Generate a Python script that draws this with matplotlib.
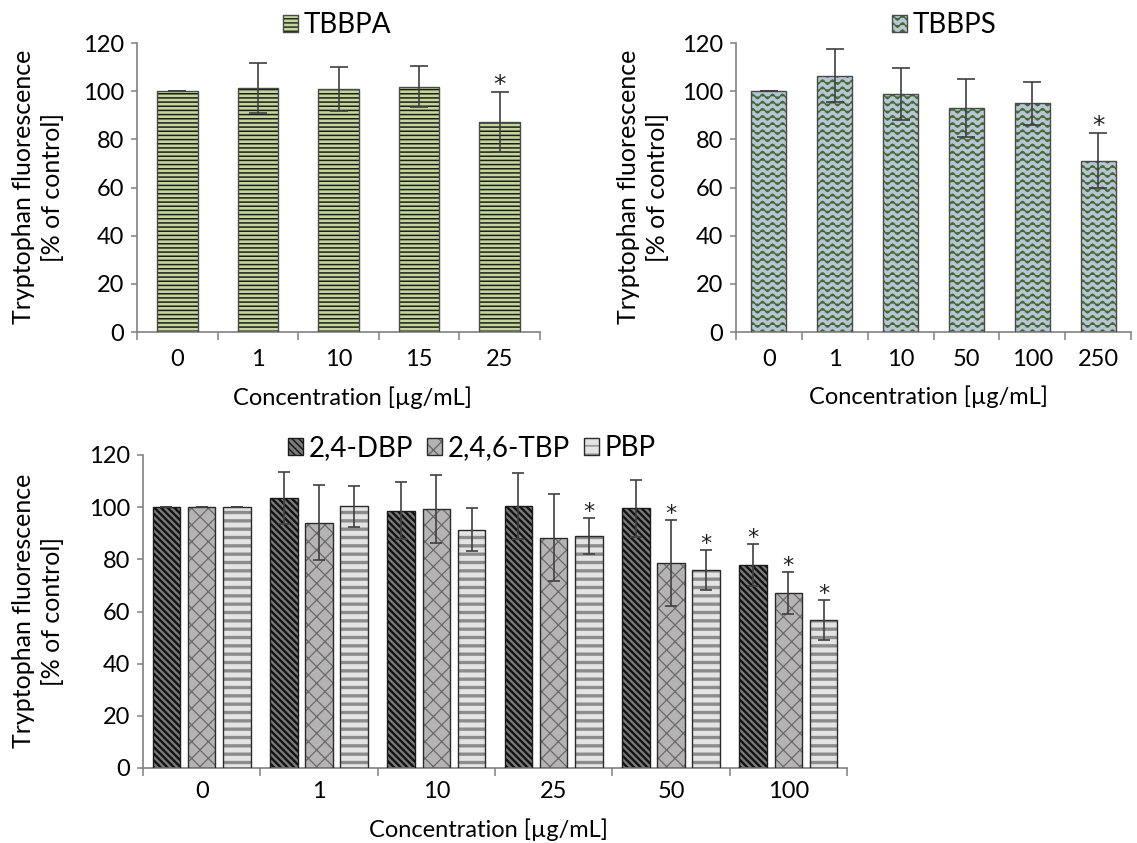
import warnings
import numpy as np
import matplotlib
matplotlib.use('Agg')
import matplotlib.pyplot as plt
import matplotlib.hatch as mhatch
from matplotlib.path import Path
from matplotlib.patches import Patch
from matplotlib.legend_handler import HandlerTuple

warnings.filterwarnings('ignore')

# ---- data ----
tbbpa_conc = ['0', '1', '10', '15', '25']
tbbpa_mean = [100, 101.3, 100.9, 101.9, 87.3]
tbbpa_err = [0, 10.5, 9.0, 8.4, 12.4]
tbbpa_sig = [False, False, False, False, True]

tbbps_conc = ['0', '1', '10', '50', '100', '250']
tbbps_mean = [100, 106.4, 98.8, 93.0, 94.9, 71.1]
tbbps_err = [0, 11.1, 10.7, 12.1, 8.9, 11.5]
tbbps_sig = [False, False, False, False, False, True]

phenol_conc = ['0', '1', '10', '25', '50', '100']
dbp_mean = [100, 103.5, 98.7, 100.5, 99.5, 77.8]
dbp_err = [0, 9.9, 10.9, 12.7, 10.9, 7.9]
dbp_sig = [False, False, False, False, False, True]
tbp_mean = [100, 94.1, 99.4, 88.3, 78.7, 67.1]
tbp_err = [0, 14.3, 13.0, 16.7, 16.4, 8.1]
tbp_sig = [False, False, False, False, True, True]
pbp_mean = [100, 100.4, 91.3, 89.0, 75.9, 56.7]
pbp_err = [0, 7.9, 8.2, 7.0, 7.7, 7.7]
pbp_sig = [False, False, False, True, True, True]

ylabel = 'Tryptophan fluorescence\n[% of control]'
xlabel = 'Concentration [\u00b5g/mL]'


# wavy hatch for TBBPS (Excel "wave" pattern)
class WaveHatch(mhatch.HatchPatternBase):
    def __init__(self, hatch, density):
        self.rows = hatch.count('~') * 14
        self.pts = 10 * 8 + 1
        self.num_vertices = self.rows * self.pts

    def set_vertices_and_codes(self, vertices, codes):
        t = np.linspace(0, 1, self.pts)
        for i in range(self.rows):
            sl = slice(i * self.pts, (i + 1) * self.pts)
            vertices[sl, 0] = t
            vertices[sl, 1] = (i + 0.5) / self.rows + 0.022 * np.sin(2 * np.pi * 10 * t)
            codes[sl] = Path.LINETO
            codes[i * self.pts] = Path.MOVETO


mhatch._hatch_types.append(WaveHatch)

plt.rcParams['font.family'] = ['Lato', 'DejaVu Sans']

styles = {
    'TBBPA': dict(fill='#c4d79b', hc='#1c1c1c', hatch='----', hlw=1.1, edge='#4a4a4a'),
    'TBBPS': dict(fill='#b9c4d6', hc='#3f6b30', hatch='~', hlw=1.0, edge='#4a4a4a'),
    '2,4-DBP': dict(fill='#7a7a7a', hc='#111111', hatch='\\' * 5, hlw=1.7, edge='#1a1a1a'),
    '2,4,6-TBP': dict(fill='#b5b3b3', hc='#6a6a6a', hatch='xx', hlw=0.9, edge='#2a2a2a'),
    'PBP': dict(fill='#e4e4e4', hc='#8c8c8c', hatch='--', hlw=2.4, edge='#2a2a2a'),
}

AXIS_C = '#808080'
ERR_C = '#404040'

W, H = 1137, 843
fig = plt.figure(figsize=(W / 100, H / 100), dpi=100)


def px_axes(left, right, top, bottom):
    return fig.add_axes([left / W, 1 - bottom / H, (right - left) / W, (bottom - top) / H])


def hatched_patch(st):
    p = Patch(facecolor=st['fill'], edgecolor=st['hc'], hatch=st['hatch'], linewidth=0)
    if hasattr(p, 'set_hatch_linewidth'):
        p.set_hatch_linewidth(st['hlw'])
    return p


def draw_bars(ax, x, mean, err, sig, width, name, capsize, star_size, star_off):
    st = styles[name]
    with plt.rc_context({'hatch.linewidth': st['hlw']}):
        bars = ax.bar(x, mean, width, color=st['fill'], edgecolor=st['hc'],
                      hatch=st['hatch'], linewidth=0, zorder=2)
    for b in bars:
        if hasattr(b, 'set_hatch_linewidth'):
            b.set_hatch_linewidth(st['hlw'])
    ax.bar(x, mean, width, fill=False, edgecolor=st['edge'], linewidth=1.0, zorder=3)
    ax.errorbar(x, mean, yerr=err, fmt='none', ecolor=ERR_C, elinewidth=1.2,
                capsize=capsize, capthick=1.2, zorder=4)
    for xi, m, e, s in zip(x, mean, err, sig):
        if s:
            ax.annotate('*', (xi, m + e), xytext=(0, star_off), textcoords='offset points',
                        ha='center', va='baseline', fontsize=star_size, color='#222222',
                        family='DejaVu Sans')
    return (hatched_patch(st), Patch(fill=False, edgecolor=st['edge'], linewidth=1.0))


def style_axes(ax, labels, tick_pad):
    n = len(labels)
    ax.set_xlim(-0.5, n - 0.5)
    ax.set_ylim(0, 120)
    ax.set_yticks(np.arange(0, 121, 20))
    ax.set_xticks(np.arange(n + 1) - 0.5)
    ax.set_xticklabels([])
    ax.set_xticks(np.arange(n), minor=True)
    ax.set_xticklabels(labels, minor=True)
    ax.tick_params(axis='x', which='major', direction='out', length=5.5, width=1.1, color=AXIS_C)
    ax.tick_params(axis='x', which='minor', length=0, pad=tick_pad, labelsize=17)
    ax.tick_params(axis='y', direction='out', length=4.5, width=1.1, color=AXIS_C,
                   pad=5, labelsize=17)
    for side in ['top', 'right']:
        ax.spines[side].set_visible(False)
    for side in ['left', 'bottom']:
        ax.spines[side].set_color(AXIS_C)
        ax.spines[side].set_linewidth(1.2)
    ax.set_facecolor('none')


def place_labels(ax, xl_px, yl_px):
    ax.set_xlabel(xlabel, fontsize=17)
    ax.xaxis.label.set_va('center')
    ax.xaxis.set_label_coords(xl_px[0] / W, 1 - xl_px[1] / H, transform=fig.transFigure)
    ax.set_ylabel(ylabel, fontsize=18, linespacing=1.3)
    ax.yaxis.label.set_va('center')
    ax.yaxis.set_label_coords(yl_px[0] / W, 1 - yl_px[1] / H, transform=fig.transFigure)


def add_legend(handles, names, cx, cy):
    fig.legend(handles, names, loc='center', bbox_to_anchor=(cx / W, 1 - cy / H),
               bbox_transform=fig.transFigure, frameon=False, fontsize=20, ncol=len(names),
               handler_map={tuple: HandlerTuple(ndivide=1, pad=0)},
               handlelength=0.55, handleheight=0.55, handletextpad=0.2, columnspacing=0.5,
               borderpad=0, borderaxespad=0)


# ---- top-left: TBBPA ----
ax1 = px_axes(137, 540, 43, 332)
x1 = np.arange(len(tbbpa_conc))
h1 = draw_bars(ax1, x1, tbbpa_mean, tbbpa_err, tbbpa_sig, 0.505, 'TBBPA', 6.5, 18, 0)
style_axes(ax1, tbbpa_conc, 12)
place_labels(ax1, (352, 398), (38, 187))
add_legend([h1], ['TBBPA'], 337, 25)

# ---- top-right: TBBPS ----
ax2 = px_axes(736, 1131, 43, 332)
x2 = np.arange(len(tbbps_conc))
h2 = draw_bars(ax2, x2, tbbps_mean, tbbps_err, tbbps_sig, 0.53, 'TBBPS', 6.5, 18, 0)
style_axes(ax2, tbbps_conc, 12)
place_labels(ax2, (928, 397), (643, 187))
add_legend([h2], ['TBBPS'], 944, 25)

# ---- bottom: phenols ----
ax3 = px_axes(143, 847, 455, 768)
x3 = np.arange(len(phenol_conc))
hs = []
for off, mean, err, sig, name in [(-0.30, dbp_mean, dbp_err, dbp_sig, '2,4-DBP'),
                                  (0.0, tbp_mean, tbp_err, tbp_sig, '2,4,6-TBP'),
                                  (0.30, pbp_mean, pbp_err, pbp_sig, 'PBP')]:
    hs.append(draw_bars(ax3, x3 + off, mean, err, sig, 0.234, name, 4.5, 16, 0))
style_axes(ax3, phenol_conc, 9)
place_labels(ax3, (488, 830), (38, 611))
add_legend(hs, ['2,4-DBP', '2,4,6-TBP', 'PBP'], 472, 448)

fig.savefig('out.png', dpi=100)
